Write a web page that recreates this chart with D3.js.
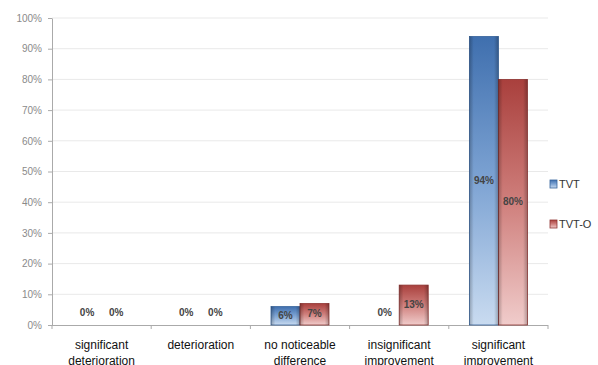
<!DOCTYPE html>
<html>
<head>
<meta charset="utf-8">
<script src="https://cdn.jsdelivr.net/npm/d3@7"></script>
<style>
  body { margin: 0; background: #fff; }
  svg { display: block; font-family: Arial, "Liberation Sans", sans-serif; }
</style>
</head>
<body>
<script>
// chart data
const categories = [
  ["significant", "deterioration"],
  ["deterioration"],
  ["no noticeable", "difference"],
  ["insignificant", "improvement"],
  ["significant", "improvement"]
];
const series = ["TVT", "TVT-O"];
const tvtValues = [0, 0, 6, 0, 94];
const tvtoValues = [0, 0, 7, 13, 80];
const yTicks = [0, 10, 20, 30, 40, 50, 60, 70, 80, 90, 100];

let width = 598,
    height = 365;
let margin = {top: 18, right: 50, bottom: 40, left: 52};

let svg = d3.select("body")
    .append("svg")
    .attr("width", width)
    .attr("height", height);

let defs = svg.append("defs");
let gradColors = {
  "TVT": ["#3f6fae", "#7da3d3", "#c9dbf0"],
  "TVT-O": ["#a9403d", "#cf7f7c", "#f0cccb"]
};
series.forEach(function (s, i) {
  let g = defs.append("linearGradient")
      .attr("id", "grad" + i)
      .attr("x1", 0).attr("y1", 0).attr("x2", 0).attr("y2", 1);
  g.append("stop").attr("offset", "0%").attr("stop-color", gradColors[s][0]);
  g.append("stop").attr("offset", "50%").attr("stop-color", gradColors[s][1]);
  g.append("stop").attr("offset", "100%").attr("stop-color", gradColors[s][2]);
  // side shading for a rounded look
  let h = defs.append("linearGradient")
      .attr("id", "side" + i)
      .attr("x1", 0).attr("y1", 0).attr("x2", 1).attr("y2", 0);
  h.append("stop").attr("offset", "0%").attr("stop-color", "#000").attr("stop-opacity", 0.25);
  h.append("stop").attr("offset", "15%").attr("stop-color", "#000").attr("stop-opacity", 0);
  h.append("stop").attr("offset", "85%").attr("stop-color", "#000").attr("stop-opacity", 0);
  h.append("stop").attr("offset", "100%").attr("stop-color", "#000").attr("stop-opacity", 0.25);
});

let x0 = d3.scaleBand()
    .domain(d3.range(categories.length))
    .range([margin.left, 548])
    .padding(0);

let x1 = d3.scaleBand()
    .domain(series)
    .range([0, x0.bandwidth()])
    .paddingOuter(0.71)
    .paddingInner(0);

let y = d3.scaleLinear()
    .domain([0, 100])
    .range([325, margin.top]);

// gridlines
svg.append("g")
    .selectAll("line")
    .data(yTicks.slice(1))
    .enter()
    .append("line")
    .attr("x1", margin.left)
    .attr("x2", 548)
    .attr("y1", d => y(d))
    .attr("y2", d => y(d))
    .attr("stroke", "#e9e9e9")
    .attr("stroke-width", 1);

// y axis
let yAxis = svg.append("g")
    .attr("transform", "translate(" + margin.left + ",0)")
    .call(d3.axisLeft(y).tickValues(yTicks).tickFormat(d => d + "%").tickSize(4).tickSizeOuter(0));
yAxis.select(".domain").attr("stroke", "#aaa");
yAxis.selectAll(".tick line").attr("stroke", "#aaa");
yAxis.selectAll("text")
    .attr("fill", "#8a8a8a")
    .attr("font-size", "10px")
    .attr("x", -10);

// x axis line and separator ticks
svg.append("line")
    .attr("x1", margin.left).attr("x2", 548)
    .attr("y1", 325.5).attr("y2", 325.5)
    .attr("stroke", "#aaa");
svg.append("g")
    .selectAll("line")
    .data(d3.range(categories.length + 1))
    .enter()
    .append("line")
    .attr("x1", d => d < categories.length ? x0(d) : 548)
    .attr("x2", d => d < categories.length ? x0(d) : 548)
    .attr("y1", 325)
    .attr("y2", 329)
    .attr("stroke", "#aaa");

// category labels
let catLabels = svg.append("g")
    .selectAll("text")
    .data(categories)
    .enter()
    .append("text")
    .attr("text-anchor", "middle")
    .attr("font-size", "12px")
    .attr("fill", "#111")
    .attr("x", (d, i) => x0(i) + x0.bandwidth() / 2)
    .attr("y", 349);
catLabels.selectAll("tspan")
    .data(d => d)
    .enter()
    .append("tspan")
    .attr("x", function () { return d3.select(this.parentNode).attr("x"); })
    .attr("dy", (d, i) => i === 0 ? 0 : 16)
    .text(d => d);

// bars
let rows = categories.map(function (c, i) {
  return [
    {s: "TVT", k: 0, i: i, v: tvtValues[i]},
    {s: "TVT-O", k: 1, i: i, v: tvtoValues[i]}
  ];
});

let groups = svg.append("g")
    .selectAll("g")
    .data(rows)
    .enter()
    .append("g")
    .attr("transform", (d, i) => "translate(" + x0(i) + ",0)");

let bars = groups.selectAll(".bar")
    .data(d => d.filter(b => b.v > 0))
    .enter();

bars.append("rect")
    .attr("x", d => x1(d.s))
    .attr("y", d => y(d.v))
    .attr("width", x1.bandwidth())
    .attr("height", d => y(0) - y(d.v))
    .attr("fill", d => "url(#grad" + d.k + ")")
    .attr("stroke", d => d.k === 0 ? "#36639c" : "#8f3532")
    .attr("stroke-width", 0.8);

bars.append("rect")
    .attr("x", d => x1(d.s))
    .attr("y", d => y(d.v))
    .attr("width", x1.bandwidth())
    .attr("height", d => y(0) - y(d.v))
    .attr("fill", d => "url(#side" + d.k + ")");

// value labels
groups.selectAll(".val")
    .data(d => d)
    .enter()
    .append("text")
    .attr("text-anchor", "middle")
    .attr("font-size", "10px")
    .attr("font-weight", "bold")
    .attr("fill", "#444")
    .attr("x", d => x1(d.s) + x1.bandwidth() / 2)
    .attr("y", d => d.v > 0 ? (y(d.v) + y(0)) / 2 + 3 : y(0) - 9)
    .text(d => d.v + "%");

// legend
let legend = svg.append("g")
    .selectAll("g")
    .data(series)
    .enter()
    .append("g")
    .attr("transform", (d, i) => "translate(550," + (180 + i * 40) + ")");
legend.append("rect")
    .attr("width", 7)
    .attr("height", 8)
    .attr("fill", (d, i) => "url(#grad" + i + ")")
    .attr("stroke", (d, i) => i === 0 ? "#36639c" : "#8f3532")
    .attr("stroke-width", 0.8);
legend.append("text")
    .attr("x", 9)
    .attr("y", 8)
    .attr("font-size", "11px")
    .attr("fill", "#333")
    .text(d => d);
</script>
</body>
</html>
